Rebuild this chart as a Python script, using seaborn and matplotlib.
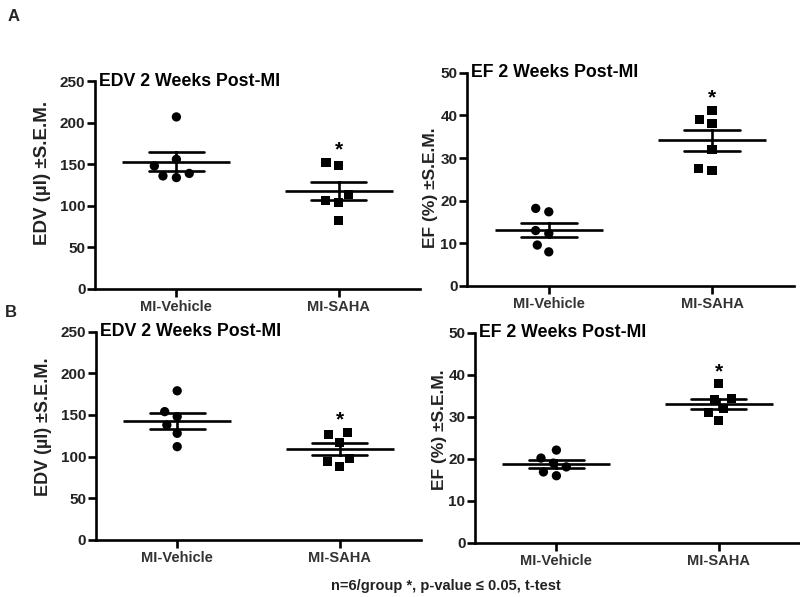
import matplotlib
matplotlib.use("Agg")
import matplotlib.pyplot as plt
import numpy as np
import pandas as pd
import seaborn as sns

groups = ["MI-Vehicle", "MI-SAHA"]

a_edv_vehicle = [207, 156, 148, 139, 136, 134]
a_edv_saha = [152, 148, 114, 107, 104, 82]
a_ef_vehicle = [18.2, 17.4, 13.0, 12.3, 9.6, 8.0]
a_ef_saha = [41.2, 39.0, 38.1, 32.1, 27.6, 27.2]

b_edv_vehicle = [179, 154, 148, 138, 128, 112]
b_edv_saha = [129, 126, 117, 98, 94, 88]
b_ef_vehicle = [22.1, 20.2, 19.0, 18.1, 16.9, 16.0]
b_ef_saha = [37.9, 34.3, 34.1, 31.9, 31.1, 29.1]

edv_ticks = [0, 50, 100, 150, 200, 250]
ef_ticks = [0, 10, 20, 30, 40, 50]

edv_label = "EDV (µl) ±S.E.M."
ef_label = "EF (%) ±S.E.M."
edv_title = "EDV 2 Weeks Post-MI"
ef_title = "EF 2 Weeks Post-MI"
footnote = "n=6/group *, p-value \u2264 0.05, t-test"

sns.set_theme(style="ticks")
plt.rcParams["font.family"] = ["Liberation Sans", "DejaVu Sans"]
plt.rcParams["font.weight"] = "bold"

fig = plt.figure(figsize=(8.0, 5.97), dpi=100)

LW = 1.9


def panel(rect, veh, saha, ylabel, title, ticks, label_pos, label_size):
    ax = fig.add_axes(rect)
    df = pd.DataFrame({
        "group": [groups[0]] * len(veh) + [groups[1]] * len(saha),
        "value": list(veh) + list(saha),
    })
    sns.pointplot(data=df, x="group", y="value", order=groups, errorbar="se",
                  capsize=0.34, color="black", marker="_", markersize=78,
                  markeredgewidth=LW, linestyle="none",
                  err_kws={"linewidth": LW}, ax=ax)
    sns.swarmplot(data=df[df.group == groups[0]], x="group", y="value",
                  order=groups, marker="o", size=6.7, color="black",
                  linewidth=2.6, edgecolor="none", ax=ax)
    sns.swarmplot(data=df[df.group == groups[1]], x="group", y="value",
                  order=groups, marker="s", size=6.5, color="black",
                  linewidth=2.6, edgecolor="none", ax=ax)
    ax.annotate("*", xy=(1, max(saha)), xytext=(0, 2), textcoords="offset points",
                ha="center", va="bottom", fontsize=15, fontweight="bold",
                color="black")
    ax.set_xlim(-0.5, 1.5)
    ax.set_ylim(ticks[0], ticks[-1])
    ax.set_yticks(ticks)
    ax.set_xlabel("")
    ax.set_ylabel(ylabel, fontsize=label_size, fontweight="bold", color="#222222")
    ax.yaxis.set_label_coords(*label_pos)
    sns.despine(ax=ax)
    for s in ("left", "bottom"):
        ax.spines[s].set_linewidth(LW)
        ax.spines[s].set_color("black")
    ax.tick_params(axis="both", width=LW, length=5.5, color="black", pad=1.5)
    ax.tick_params(axis="x", pad=2.5)
    for lab in ax.get_yticklabels():
        lab.set_fontsize(11)
        lab.set_fontweight("bold")
        lab.set_color("#222222")
    for lab in ax.get_xticklabels():
        lab.set_fontsize(10.5)
        lab.set_fontweight("bold")
        lab.set_color("#333333")
    ax.text(0.012, 1.0, title, transform=ax.transAxes, ha="left", va="center",
            fontsize=12.8, fontweight="bold", color="black")
    return ax


panel([0.119, 0.516, 0.406, 0.348], a_edv_vehicle, a_edv_saha, edv_label,
      edv_title, edv_ticks, (-0.135, 0.56), 13.5)
panel([0.584, 0.521, 0.408, 0.357], a_ef_vehicle, a_ef_saha, ef_label,
      ef_title, ef_ticks, (-0.09, 0.46), 12.5)
panel([0.120, 0.0955, 0.406, 0.349], b_edv_vehicle, b_edv_saha, edv_label,
      edv_title, edv_ticks, (-0.135, 0.545), 13)
panel([0.594, 0.0905, 0.406, 0.352], b_ef_vehicle, b_ef_saha, ef_label,
      ef_title, ef_ticks, (-0.088, 0.54), 12.5)

fig.text(0.009, 0.972, "A", fontsize=12, fontweight="bold", ha="left", va="center")
fig.text(0.006, 0.477, "B", fontsize=12, fontweight="bold", ha="left", va="center")
fig.text(0.557, 0.018, footnote, fontsize=10.5, fontweight="bold", ha="center",
         va="center", color="#222222")

fig.savefig("out.png", dpi=100)
